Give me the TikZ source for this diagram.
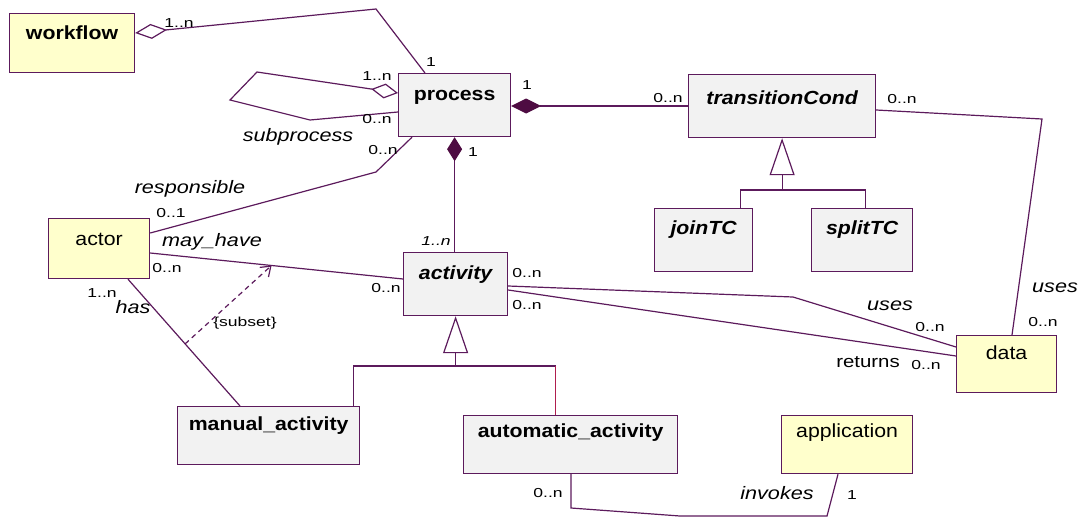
\documentclass[tikz,border=0pt]{standalone}
\usepackage{fontspec}
\setmainfont{Liberation Sans}
\newfontfamily\boxfont[FakeStretch=1.12]{Liberation Sans}
\newfontfamily\tagfont[FakeStretch=1.2]{Liberation Sans}
\newfontfamily\multfont[FakeStretch=1.35]{Liberation Sans}
\usetikzlibrary{arrows.meta,calc}
\definecolor{umlline}{RGB}{92,26,92}
\definecolor{umldark}{RGB}{78,12,66}
\definecolor{umlred}{RGB}{176,30,78}
\definecolor{umlgray}{RGB}{242,242,242}
\definecolor{umlyellow}{RGB}{255,255,204}
\tikzset{
  classbox/.style={draw=umlline, line width=1.2pt, fill=umlgray, anchor=north west, inner sep=0pt},
  databox/.style={classbox, fill=umlyellow},
  title/.style={anchor=center, inner sep=0pt, yshift=-#1, font=\boxfont\bfseries\fontsize{19}{21}\selectfont},
  ititle/.style={title=#1, font=\boxfont\bfseries\itshape\fontsize{19}{21}\selectfont},
  ptitle/.style={title=#1, font=\boxfont\fontsize{19}{21}\selectfont},
  conn/.style={draw=umlline, line width=1.2pt},
  mult/.style={inner sep=0pt, font=\multfont\fontsize{13}{15}\selectfont},
  imult/.style={mult, font=\multfont\itshape\fontsize{13}{15}\selectfont},
  role/.style={inner sep=0pt, font=\tagfont\itshape\fontsize{18}{20}\selectfont},
  prole/.style={inner sep=0pt, font=\tagfont\fontsize{17}{19}\selectfont},
  hollowdiamond/.style={{Diamond[open,length=#1,width=15pt]}-},
  soliddiamond/.style={{Diamond[length=#1,width=15pt,color=umldark]}-},
  gentip/.style={{Triangle[open,length=37pt,width=25pt]}-},
}
\begin{document}
\begin{tikzpicture}[x=1pt,y=-1pt]
\useasboundingbox (0,0) rectangle (1086,517);

% classes
\node[databox, minimum width=125pt, minimum height=59pt, label={[title=20pt]north:workflow}] (workflow) at (9,13) {};
\node[classbox, minimum width=112pt, minimum height=63pt, label={[title=24pt]north:process}] (process) at (398,73) {};
\node[classbox, minimum width=187pt, minimum height=63pt, label={[ititle=24pt]north:transitionCond}] (tcond) at (688,74) {};
\node[classbox, minimum width=98pt, minimum height=63pt, label={[ititle=22pt]north:joinTC}] (join) at (654,208) {};
\node[classbox, minimum width=101pt, minimum height=63pt, label={[ititle=22pt]north:splitTC}] (split) at (811,208) {};
\node[databox, minimum width=101pt, minimum height=60pt, label={[ptitle=21pt]north:actor}] (actor) at (48,218) {};
\node[classbox, minimum width=104pt, minimum height=63pt, label={[ititle=23pt]north:activity}] (activity) at (403,252) {};
\node[databox, minimum width=100pt, minimum height=57pt, label={[ptitle=18pt]north:data}] (data) at (956,335) {};
\node[classbox, minimum width=182pt, minimum height=58pt, label={[title=20pt]north:manual\_activity}] (manual) at (177,406) {};
\node[classbox, minimum width=214pt, minimum height=58pt, label={[title=18pt]north:automatic\_activity}] (auto) at (463,415) {};
\node[databox, minimum width=131pt, minimum height=58pt, label={[ptitle=18pt]north:application}] (app) at (781,415) {};

% workflow aggregates processes
\draw[conn, hollowdiamond=32pt] ([yshift=-20pt]workflow.north east) -- (376,9) -- ([xshift=27pt]process.north west);
% subprocess self association
\draw[conn, hollowdiamond=27pt] ([yshift=-20pt]process.north west) -- (257,72) -- (230,100) -- (310,120) -- ([yshift=-39pt]process.north west);
% process composed of transition conditions
\coordinate (pcR) at ([yshift=-33pt]process.north east);
\draw[conn, soliddiamond=30pt] (pcR) -- (pcR -| tcond.west);
% process composed of activities
\draw[conn, soliddiamond=24pt] (process.south) -- (process.south |- activity.north);

% transition condition specialisations
\coordinate (tcbar) at (781.5,190);
\draw[conn, gentip] (tcond.south) -- (tcond.south |- tcbar);
\draw[conn] ([xshift=-13pt]join.north east) |- (tcbar) -| ([xshift=3pt]split.north);

% activity specialisations
\coordinate (acbar) at (455,366);
\coordinate (acR) at ([xshift=-15pt]auto.north);
\draw[conn, gentip] (activity.south) -- (activity.south |- acbar);
\draw[conn] ([xshift=-7pt]manual.north east) |- (acbar) -- (acbar -| acR);
\draw[conn, draw=umlred] (acbar -| acR) -- (acR);

% actor associations
\draw[conn] ([xshift=14pt]process.south west) -- (376,172) -- ([yshift=-15pt]actor.north east);
\draw[conn] ([yshift=-35pt]actor.north east) -- coordinate[pos=0.48] (mh) ([yshift=-27pt]activity.north west);
\draw[conn] ([xshift=80pt]actor.south west) -- coordinate[pos=0.51] (hs) ([xshift=63pt]manual.north west);
\draw[conn, dash pattern=on 5pt off 4pt, -{Straight Barb[length=9pt,width=13pt]}] (hs) -- (mh);

% data usage
\draw[conn] ([yshift=-34pt]activity.north east) -- (793,297) -- ([yshift=-12pt]data.north west);
\draw[conn] ([yshift=-38pt]activity.north east) -- ([yshift=-21pt]data.north west);
\draw[conn] ([yshift=-36pt]tcond.north east) -- (1042,119) -- ([xshift=56pt]data.north west);

% application invocation
\draw[conn] ([xshift=108pt]auto.south west) -- (571,508) -- (680,516) -- (827,516) -- ([xshift=57pt]app.south west);

% multiplicities and role names
\node[mult] (m1) at (179,23) {1..n};
\node[mult] (m2) at (431,62) {1};
\node[mult] (m3) at (377,76) {1..n};
\node[mult] (m4) at (377,119) {0..n};
\node[role] (r1) at (298,137) {subprocess};
\node[mult] (m5) at (383,150) {0..n};
\node[mult] (m6) at (527,85) {1};
\node[mult] (m7) at (473,152) {1};
\node[mult] (m8) at (668,98) {0..n};
\node[mult] (m9) at (902,99) {0..n};
\node[role] (r2) at (190,189) {responsible};
\node[mult] (m10) at (171,213) {0..1};
\node[role] (r3) at (212,242) {may\_have};
\node[mult] (m11) at (167,268) {0..n};
\node[imult] (m12) at (436,241) {1..n};
\node[mult] (m13) at (386,288) {0..n};
\node[mult] (m14) at (102,293) {1..n};
\node[role] (r4) at (133,307) {has};
\node[mult] (s1) at (245,323) {\{subset\}};
\node[mult] (m15) at (527,273) {0..n};
\node[mult] (m16) at (527,305) {0..n};
\node[role] (r5) at (890,306) {uses};
\node[mult] (m17) at (930,327) {0..n};
\node[role] (r6) at (1055,288) {uses};
\node[mult] (m18) at (1043,322) {0..n};
\node[prole] (r7) at (868,362) {returns};
\node[mult] (m19) at (926,365) {0..n};
\node[mult] (m20) at (548,493) {0..n};
\node[role] (r8) at (777,493) {invokes};
\node[mult] (m21) at (852,495) {1};
\end{tikzpicture}
\end{document}
